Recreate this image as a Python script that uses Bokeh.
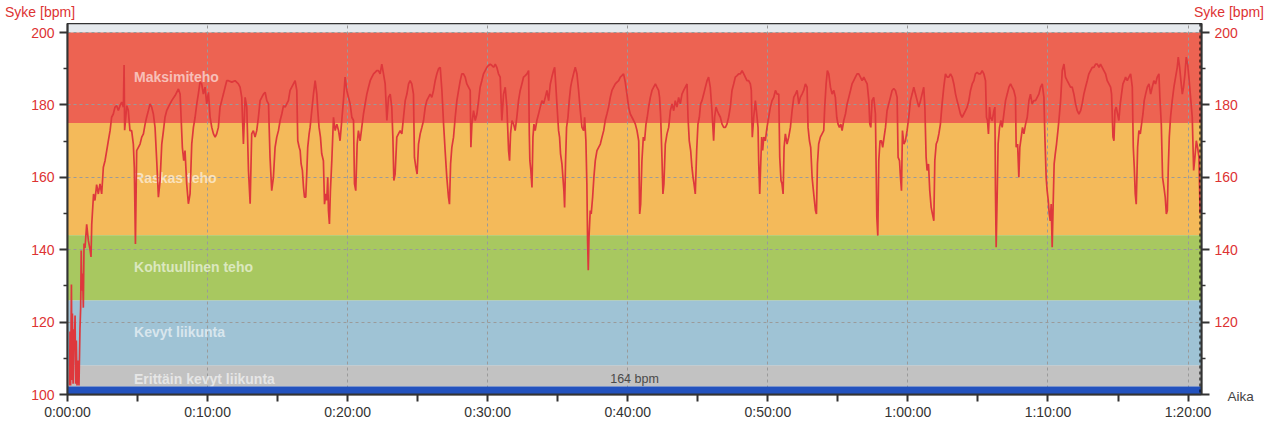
from bokeh.plotting import figure
from bokeh.models import Range1d, LinearAxis, FixedTicker, Label, Span, Div
from bokeh.layouts import column
from bokeh.embed import file_html
from bokeh.resources import INLINE
from bokeh.core.properties import value

# ---------------- data ----------------
duration_min = 80.96
end_marker_min = 80.85

zone_names = ["Maksimiteho", "Raskas teho", "Kohtuullinen teho", "Kevyt liikunta", "Erittäin kevyt liikunta"]
zone_low = [175, 144, 126, 108, 102.2]
zone_high = [200, 175, 144, 126, 108]
zone_label_bpm = [187.8, 159.9, 135.3, 117.4, 104.2]
zone_label_min = 4.75
floor_low, floor_high = 100, 102.2

avg_text = "164 bpm"
avg_text_bpm = 104.3

y_ticks = [100, 120, 140, 160, 180, 200]
y_minor = [110, 130, 150, 170, 190]
x_ticks = [0, 10, 20, 30, 40, 50, 60, 70, 80]
x_minor = [5, 15, 25, 35, 45, 55, 65, 75]
x_tick_labels = ["0:00:00", "0:10:00", "0:20:00", "0:30:00", "0:40:00",
                 "0:50:00", "1:00:00", "1:10:00", "1:20:00"]
y_title = "Syke [bpm]"
x_title = "Aika"

hr_minutes = [
    0.15, 0.18, 0.22, 0.28, 0.32, 0.35, 0.40, 0.46, 0.50, 0.54, 0.58, 0.63, 0.68, 0.75, 0.82, 0.89, 0.94, 0.98,
    1.02, 1.08, 1.13, 1.18, 1.25, 1.37, 1.49, 1.61, 1.68, 1.73, 1.86, 1.96, 2.08, 2.20, 2.32, 2.44, 2.56, 2.68,
    2.80, 2.92, 3.04, 3.15, 3.27, 3.39, 3.51, 3.63, 3.75, 3.87, 3.99, 4.04, 4.08, 4.23, 4.34, 4.46, 4.58, 4.70,
    4.77, 4.85, 4.94, 5.06, 5.18, 5.30, 5.42, 5.54, 5.65, 5.77, 5.89, 6.01, 6.13, 6.25, 6.37, 6.49, 6.61, 6.73,
    6.85, 6.96, 7.08, 7.20, 7.32, 7.44, 7.68, 7.92, 8.04, 8.11, 8.20, 8.30, 8.39, 8.51, 8.63, 8.75, 8.87, 8.99,
    9.11, 9.23, 9.34, 9.46, 9.58, 9.70, 9.82, 9.94, 10.06, 10.18, 10.30, 10.42, 10.54, 10.65, 10.77, 10.89,
    11.01, 11.13, 11.25, 11.37, 11.49, 11.73, 11.96, 12.20, 12.32, 12.44, 12.56, 12.68, 12.80, 12.92, 13.04,
    13.15, 13.27, 13.39, 13.51, 13.63, 13.75, 13.87, 13.99, 14.11, 14.23, 14.35, 14.46, 14.58, 14.70, 14.82,
    14.94, 15.06, 15.18, 15.30, 15.42, 15.54, 15.65, 15.77, 15.89, 16.01, 16.13,
    16.25, 16.37, 16.44, 16.54, 16.61, 16.68, 16.77, 16.85, 16.92, 17.01, 17.08, 17.15, 17.25, 17.32, 17.44,
    17.56, 17.68, 17.80, 17.87, 17.96, 18.06, 18.15, 18.27, 18.35, 18.44, 18.51, 18.58, 18.63, 18.70, 18.77,
    18.87, 18.99, 19.11, 19.23, 19.35, 19.46, 19.58, 19.70, 19.82, 19.94, 20.06, 20.18, 20.30, 20.42, 20.49,
    20.58, 20.68, 20.77, 20.89, 21.01, 21.13, 21.25, 21.37, 21.49, 21.61, 21.73, 21.85, 21.96, 22.08, 22.20,
    22.32, 22.44, 22.56, 22.68, 22.80, 22.92, 23.04, 23.15, 23.23, 23.30, 23.39, 23.51, 23.63, 23.75, 23.87,
    23.99, 24.11, 24.23, 24.35, 24.46, 24.58, 24.70, 24.77, 24.87, 24.96, 25.06, 25.18, 25.30, 25.42, 25.54,
    25.65, 25.77, 25.89, 26.01, 26.13, 26.25, 26.37, 26.49, 26.61, 26.73, 26.85, 26.96, 27.08, 27.20, 27.27,
    27.35, 27.44, 27.56, 27.68, 27.80, 27.92, 28.04, 28.15, 28.27, 28.39, 28.51, 28.63, 28.75, 28.80, 28.87,
    28.99, 29.11, 29.23, 29.35, 29.46, 29.58, 29.70, 29.82, 29.94, 30.06, 30.18, 30.30, 30.42, 30.54, 30.65,
    30.77, 30.89, 31.01, 31.13, 31.25, 31.37, 31.49, 31.56, 31.63, 31.73, 31.85, 31.96, 32.08, 32.20, 32.32,
    32.44, 32.56, 32.68, 32.80,
    32.92, 32.97, 33.01, 33.08, 33.16, 33.23, 33.30, 33.39, 33.51, 33.63, 33.75, 33.87, 33.99, 34.11, 34.23,
    34.35, 34.47, 34.58, 34.70, 34.78, 34.87, 34.97, 35.06, 35.13, 35.20, 35.30, 35.37, 35.44, 35.49, 35.56,
    35.63, 35.73, 35.82, 35.92, 36.01, 36.13, 36.25, 36.37, 36.49, 36.61, 36.73, 36.85, 36.92, 37.01, 37.08,
    37.13, 37.18, 37.23, 37.32, 37.39, 37.49, 37.58, 37.68, 37.80, 37.92, 38.04, 38.16, 38.28, 38.39, 38.51,
    38.63, 38.75, 38.87, 38.99, 39.11, 39.23, 39.35, 39.47, 39.58, 39.70, 39.82, 39.94, 40.06, 40.18, 40.30,
    40.42, 40.54, 40.66, 40.78, 40.85, 40.92, 41.01, 41.11, 41.20, 41.30, 41.39, 41.49, 41.61, 41.73, 41.85,
    41.97, 42.08, 42.20, 42.27, 42.35, 42.44, 42.51, 42.58, 42.68, 42.80, 42.92, 43.04, 43.16, 43.28, 43.39,
    43.51, 43.63, 43.75, 43.87, 43.99, 44.11, 44.23, 44.30, 44.39, 44.49, 44.58, 44.66, 44.73, 44.82, 44.92,
    45.01, 45.11, 45.20, 45.30, 45.42, 45.54, 45.66, 45.77, 45.89, 46.01, 46.13, 46.20, 46.30, 46.39, 46.49,
    46.61, 46.73, 46.85, 46.97, 47.08, 47.20, 47.32, 47.44, 47.56, 47.68, 47.80, 47.92, 48.04, 48.16, 48.28,
    48.39, 48.51, 48.63, 48.75, 48.82, 48.89, 48.99,
    49.11, 49.23, 49.30, 49.35, 49.42, 49.49, 49.56, 49.63, 49.71, 49.82, 49.94, 50.06, 50.18, 50.30, 50.42,
    50.54, 50.66, 50.78, 50.85, 50.94, 51.01, 51.09, 51.16, 51.25, 51.37, 51.49, 51.61, 51.73, 51.85, 51.97,
    52.09, 52.21, 52.32, 52.44, 52.56, 52.68, 52.80, 52.87, 52.97, 53.06, 53.16, 53.23, 53.30, 53.40, 53.47,
    53.54, 53.63, 53.75, 53.87, 53.99, 54.06, 54.16, 54.25, 54.35, 54.47, 54.59, 54.71, 54.82, 54.92, 55.01,
    55.11, 55.21, 55.30, 55.42, 55.54, 55.66, 55.78, 55.90, 56.01, 56.13, 56.25, 56.37, 56.49, 56.61, 56.73,
    56.85, 56.97, 57.09, 57.21, 57.28, 57.35, 57.44, 57.56, 57.68, 57.78, 57.85, 57.92, 58.01, 58.11, 58.20,
    58.30, 58.40, 58.51, 58.63, 58.75, 58.87, 58.99, 59.11, 59.23, 59.30, 59.40, 59.47, 59.54, 59.61, 59.71,
    59.82, 59.94, 60.06, 60.18, 60.30, 60.42, 60.54, 60.66, 60.78, 60.90, 61.01, 61.13, 61.21, 61.30, 61.37,
    61.47, 61.56, 61.66, 61.75, 61.85, 61.92, 62.02, 62.11, 62.21, 62.32, 62.44, 62.56, 62.68, 62.80, 62.92,
    63.04, 63.16, 63.28, 63.40, 63.51, 63.63, 63.75, 63.87, 63.99, 64.11, 64.23, 64.35, 64.47, 64.59, 64.71,
    64.82, 64.94, 65.06, 65.18, 65.30, 65.42, 65.54,
    65.61, 65.68, 65.75, 65.83, 65.90, 66.02, 66.14, 66.21, 66.25, 66.30, 66.37, 66.44, 66.54, 66.64, 66.73,
    66.85, 66.97, 67.09, 67.21, 67.33, 67.44, 67.56, 67.68, 67.73, 67.83, 67.92, 67.99, 68.09, 68.18, 68.28,
    68.40, 68.52, 68.64, 68.75, 68.87, 68.99, 69.11, 69.23, 69.35, 69.47, 69.59, 69.71, 69.78, 69.87, 69.94,
    70.02, 70.09, 70.16, 70.23, 70.30, 70.37, 70.44, 70.52, 70.61, 70.71, 70.80, 70.90, 71.02, 71.14, 71.25,
    71.37, 71.49, 71.61, 71.73, 71.85, 71.97, 72.09, 72.21, 72.33, 72.44, 72.56, 72.68, 72.80, 72.92, 73.04,
    73.16, 73.28, 73.40, 73.52, 73.64, 73.75, 73.87, 73.99, 74.11, 74.23, 74.35, 74.47, 74.54, 74.64, 74.71,
    74.78, 74.87, 74.97, 75.06, 75.16, 75.25, 75.35, 75.45, 75.54, 75.66, 75.78, 75.90, 76.02, 76.09, 76.16,
    76.23, 76.30, 76.40, 76.49, 76.59, 76.68, 76.78, 76.87, 76.97, 77.09, 77.21, 77.33, 77.44, 77.56, 77.68,
    77.80, 77.92, 77.99, 78.09, 78.18, 78.28, 78.37, 78.45, 78.52, 78.59, 78.66, 78.75, 78.87, 78.99, 79.11,
    79.23, 79.30, 79.40, 79.49, 79.59, 79.68, 79.78, 79.87, 79.97, 80.06, 80.18, 80.30, 80.40, 80.49, 80.59,
    80.68, 80.78, 80.86,
]

hr_bpm = [
    102.5, 117.4, 102.5, 130.4, 104.0, 122.4, 103.0, 118.0, 115.0, 121.8, 103.0, 114.9, 102.5, 109.4, 102.5, 118.2, 124.0, 139.8,
    128.7, 133.4, 124.0, 141.7, 140.5, 147.0, 142.5, 140.0, 138.0, 147.0, 155.4, 153.6, 158.0, 155.4, 158.2, 155.4, 162.8, 164.6,
    167.4, 170.2, 172.9, 176.6, 177.5, 179.4, 179.8, 178.5, 179.8, 180.8, 179.4, 191.0, 173.0, 179.8, 178.5, 172.9, 172.9, 169.2,
    162.8, 141.6, 167.4, 168.3, 169.2, 171.1, 172.0, 174.7, 176.6, 178.4, 180.3, 179.4, 177.5, 173.8, 164.6, 154.5, 159.1, 169.2,
    172.9, 176.6, 178.4, 179.4, 180.3, 181.2, 182.6, 184.4, 183.0, 176.6, 168.3, 164.6, 167.4, 158.2, 152.7, 155.4, 169.2, 173.8,
    176.6, 180.3, 183.0, 186.3, 185.8, 183.0, 184.9, 180.3, 183.5, 176.6, 173.8, 172.0, 171.1, 172.0, 173.8, 179.4,
    181.2, 183.0, 184.9, 186.7, 186.7, 186.3, 186.7, 185.8, 184.9, 182.1, 169.2, 182.1, 179.4, 161.9, 152.7,
    172.0, 172.9, 171.1, 172.9, 176.6, 181.2, 182.1, 183.0, 183.5, 181.2, 180.3, 165.5, 156.3, 160.0, 168.3,
    171.1, 172.9, 175.7, 177.5, 179.8, 179.4, 180.3, 181.2, 184.0, 184.9, 185.8,
    186.7, 184.0, 170.1, 168.3, 167.4, 163.7, 161.9, 157.2, 154.5, 154.5, 160.9, 168.3, 172.0, 173.8, 178.4,
    183.0, 186.7, 183.0, 178.4, 173.8, 171.1, 166.5, 164.6, 152.6, 155.4, 153.6, 160.0, 150.8, 147.1, 156.3,
    164.6, 176.6, 172.9, 174.7, 172.9, 170.1, 175.7, 181.2, 187.7, 184.0, 182.1, 180.3, 176.6, 175.7, 158.2,
    156.3, 169.2, 172.9, 170.1, 173.8, 177.5, 180.3, 183.0, 184.9, 186.7, 187.7, 188.6, 189.0, 189.5, 189.5,
    188.6, 191.3, 188.6, 185.8, 175.7, 182.1, 183.0, 179.4, 171.1, 159.1, 160.9, 171.1, 172.0, 172.9, 172.0,
    176.6, 181.2, 183.0, 185.8, 186.7, 185.8, 183.0, 165.5, 162.8, 160.9, 169.2, 172.0, 173.8, 175.7, 179.4,
    181.2, 182.1, 183.0, 182.1, 184.0, 186.7, 188.6, 190.0, 190.4, 184.0, 174.7, 167.4, 160.0, 154.5, 152.6,
    163.7, 168.3, 171.1, 176.6, 181.2, 184.0, 186.7, 188.6, 188.6, 187.7, 185.8, 184.9, 184.0, 168.3, 174.7,
    178.4, 175.7, 177.5, 181.2, 184.9, 186.7, 188.6, 189.5, 190.4, 190.9, 191.3, 190.9, 190.4, 191.3, 190.4,
    188.6, 187.7, 175.7, 183.0, 184.9, 179.4, 167.4, 164.6, 172.0, 175.7, 174.7, 172.9, 176.6, 181.2, 184.0,
    185.8, 187.7, 188.1, 188.6,
    189.5, 172.0, 164.6, 161.9, 157.2, 171.1, 174.7, 172.9, 175.7, 177.5, 179.4, 181.2, 180.3, 182.1, 184.0,
    181.2, 185.8, 187.7, 189.5, 190.4, 184.9, 178.4, 172.9, 171.1, 166.5, 163.7, 160.0, 156.3, 151.7, 164.6,
    173.8, 176.6, 181.2, 184.9, 186.7, 188.6, 190.4, 188.6, 184.0, 178.4, 173.8, 172.9, 176.6, 170.1, 158.2,
    142.5, 134.3, 143.4, 150.8, 149.9, 154.5, 160.0, 164.6, 167.4, 168.3, 169.2, 171.1, 172.9, 175.7, 177.5,
    179.4, 182.1, 184.0, 184.9, 185.8, 186.3, 186.7, 187.7, 188.1, 188.6, 186.3, 183.0, 179.4, 177.5, 176.6,
    175.7, 174.7, 172.9, 170.1, 149.9, 152.6, 164.6, 171.1, 170.1, 174.7, 176.6, 179.4, 182.1, 184.0, 184.9,
    185.8, 184.9, 184.0, 182.1, 176.6, 165.5, 155.4, 158.2, 169.2, 172.0, 173.8, 178.4, 180.3, 178.4, 181.2,
    179.4, 182.1, 180.3, 183.0, 184.0, 184.9, 185.8, 176.6, 170.1, 167.4, 162.8, 160.0, 158.2, 155.4, 167.4,
    174.7, 176.6, 180.3, 181.2, 183.0, 184.9, 186.7, 187.7, 184.9, 178.4, 170.1, 176.6, 179.4, 178.4, 177.5,
    176.6, 174.7, 173.8, 173.8, 174.7, 176.6, 179.4, 184.0, 185.8, 187.7, 188.1, 188.6, 188.6, 189.5, 188.6,
    187.7, 186.7, 186.7, 185.8, 184.0, 171.1, 176.6,
    181.2, 176.6, 173.8, 163.7, 155.4, 163.7, 171.1, 167.4, 171.1, 170.1, 173.8, 176.6, 179.4, 181.2, 182.1,
    184.0, 183.0, 183.0, 165.5, 159.1, 158.2, 155.4, 168.3, 172.0, 169.2, 171.1, 173.8, 178.4, 182.1, 183.0,
    184.0, 180.3, 182.1, 183.0, 184.0, 185.8, 184.9, 173.8, 170.1, 168.3, 160.0, 157.2, 154.5, 150.8, 149.9,
    163.7, 169.2, 171.1, 172.0, 172.9, 179.4, 185.8, 189.5, 188.6, 184.9, 183.0, 184.0, 182.1, 176.6, 174.7,
    173.8, 174.7, 172.9, 175.7, 177.5, 180.3, 182.1, 184.0, 185.8, 186.7, 187.7, 188.6, 188.6, 187.7, 186.7,
    187.7, 186.7, 185.8, 181.2, 174.7, 173.8, 181.2, 182.1, 177.5, 149.0, 143.9, 164.6, 170.1, 170.1, 168.3,
    171.1, 173.8, 178.4, 180.3, 182.1, 184.0, 184.5, 184.0, 182.1, 165.5, 164.6, 160.0, 156.3, 172.9, 169.2,
    170.1, 172.9, 176.6, 181.2, 183.0, 184.9, 183.0, 181.2, 179.4, 181.2, 183.0, 184.9, 179.4, 165.5, 161.9,
    163.7, 156.3, 151.7, 149.9, 148.0, 164.6, 169.2, 170.1, 172.0, 174.7, 180.3, 184.9, 188.6, 187.7, 187.7,
    188.6, 187.7, 185.8, 183.0, 181.2, 179.4, 177.5, 176.6, 177.5, 178.4, 179.4, 181.2, 184.0, 185.8, 186.7,
    188.6, 189.0, 188.6, 188.6, 189.5, 188.6, 186.7,
    176.6, 175.7, 172.0, 179.4, 176.6, 175.7, 178.4, 179.4, 156.3, 140.7, 154.5, 169.2, 173.8, 175.7, 173.8,
    177.5, 181.2, 183.0, 184.9, 185.8, 184.9, 184.0, 182.1, 168.3, 169.2, 160.0, 168.3, 171.1, 173.8, 172.0,
    174.7, 176.6, 181.2, 183.0, 180.3, 181.2, 181.2, 182.1, 183.0, 184.9, 185.8, 182.1, 171.1, 160.0, 156.3,
    153.6, 149.9, 148.0, 152.6, 140.7, 152.6, 163.7, 166.5, 169.2, 172.9, 176.6, 181.2, 189.5, 191.3, 187.7,
    186.7, 185.8, 184.9, 184.9, 183.0, 180.3, 178.4, 177.5, 178.4, 180.3, 183.0, 184.9, 186.7, 188.6, 189.5,
    190.4, 190.4, 191.3, 191.3, 190.4, 191.3, 190.4, 189.5, 188.6, 186.7, 185.8, 184.9, 183.0, 171.1, 170.1,
    178.4, 179.4, 177.5, 175.7, 180.3, 183.0, 185.8, 186.7, 187.7, 186.7, 187.7, 188.6, 184.9, 168.3, 162.8,
    155.4, 152.6, 168.3, 172.9, 172.0, 174.7, 177.5, 181.2, 183.0, 184.9, 185.8, 183.0, 184.9, 186.7, 185.8,
    187.7, 188.6, 182.1, 174.7, 160.0, 157.2, 154.5, 149.9, 150.8, 162.8, 171.1, 176.6, 181.2, 184.9, 187.7,
    190.4, 193.2, 190.4, 186.7, 183.0, 184.9, 188.6, 193.2, 191.3, 187.7, 182.1, 176.6, 161.9, 165.5, 170.1,
    168.3, 165.5, 150.0,
]

# ---------------- styles ----------------
zone_colors = ["#ed6352", "#f4ba5a", "#a8c860", "#9fc3d5", "#c2c2c2"]
floor_color = "#2352be"
line_color = "#de383c"
axis_red = "#dd3333"
dark = "#333333"
FONT = "Liberation Sans"

# ---- header strip with the two y-axis titles ----
span_style = ("position:absolute;top:4px;line-height:16px;white-space:nowrap;"
              "font-family:'Liberation Sans';font-size:14px;color:%s;" % axis_red)
head_html = (
    '<div style="position:relative;width:1268px;height:23px;overflow:visible;">'
    '<span style="%sleft:5px;">%s</span>'
    '<span style="%sright:4px;">%s</span>'
    '</div>' % (span_style, y_title, span_style, y_title)
)
head = Div(text=head_html, width=1268, height=23, margin=(0, 0, 0, 0))

# ---- main chart ----
p = figure(width=1268, height=405,
           x_range=Range1d(0, duration_min), y_range=Range1d(100, 202.5),
           output_backend="svg", toolbar_location=None,
           min_border_left=67, min_border_right=67, min_border_top=0, min_border_bottom=34,
           background_fill_color="#e5e9ed", border_fill_color="white",
           margin=(0, 0, 0, 0))

p.outline_line_color = dark
p.outline_line_width = 1.5

# zone bands
p.quad(left=[0] * len(zone_low), right=[duration_min] * len(zone_low),
       bottom=zone_low, top=zone_high, fill_color=zone_colors, line_color=None,
       level="image")

# grids
p.xgrid.ticker = FixedTicker(ticks=x_ticks[1:])
p.ygrid.ticker = FixedTicker(ticks=y_ticks[1:])
for g in (p.xgrid[0], p.ygrid[0]):
    g.grid_line_color = "#9a9a9a"
    g.grid_line_dash = "3 3"
    g.grid_line_width = 1

# zone labels
p.text(x=[zone_label_min] * len(zone_names), y=zone_label_bpm, text=zone_names,
       text_font=value(FONT), text_font_style="bold", text_font_size="14px",
       text_color="white", text_alpha=0.6, text_baseline="alphabetic", text_align="left")

# heart-rate line
p.line(hr_minutes, hr_bpm, line_color=line_color, line_width=1.7)

# floor band
p.quad(left=[0], right=[duration_min], bottom=[floor_low], top=[floor_high],
       fill_color=floor_color, line_color=None)

# end marker
p.add_layout(Span(location=end_marker_min, dimension="height", line_color="black",
                  line_dash="3 3", line_width=1))

# average label
p.add_layout(Label(x=duration_min / 2, y=avg_text_bpm, text=avg_text, text_align="center",
                   text_baseline="alphabetic", text_font=FONT, text_font_size="12.5px",
                   text_color="#4a4a4a"))

# axes
right_axis = LinearAxis()
p.add_layout(right_axis, "right")
for ax in (p.yaxis[0], right_axis):
    ax.ticker = FixedTicker(ticks=y_ticks, minor_ticks=y_minor)
    ax.major_label_text_color = axis_red
    ax.major_label_text_font = FONT
    ax.major_label_text_font_size = "14px"
    ax.major_label_standoff = 5
    ax.axis_line_color = dark
    ax.axis_line_width = 2
    ax.major_tick_line_color = dark
    ax.major_tick_line_width = 2
    ax.major_tick_out = 8
    ax.major_tick_in = 0
    ax.minor_tick_line_color = dark
    ax.minor_tick_line_width = 1.5
    ax.minor_tick_out = 4
    ax.minor_tick_in = 0
right_axis.major_label_overrides = {y_ticks[0]: ""}

xa = p.xaxis[0]
xa.ticker = FixedTicker(ticks=x_ticks, minor_ticks=x_minor)
xa.major_label_overrides = {t: lab for t, lab in zip(x_ticks, x_tick_labels)}
xa.major_label_text_color = dark
xa.major_label_text_font = FONT
xa.major_label_text_font_size = "14px"
xa.major_label_standoff = 2
xa.axis_line_color = dark
xa.axis_line_width = 2
xa.major_tick_line_color = dark
xa.major_tick_line_width = 2
xa.major_tick_out = 7
xa.major_tick_in = 0
xa.minor_tick_line_color = dark
xa.minor_tick_line_width = 2
xa.minor_tick_out = 7
xa.minor_tick_in = 0

# x-axis title at the right end of the time axis (in the right side panel, so not clipped)
p.add_layout(Label(x=duration_min, y=100, x_offset=26, y_offset=-2, text=x_title,
                   text_font=FONT, text_font_size="13.5px", text_color="#444444",
                   text_baseline="alphabetic", text_align="left"), "right")

layout = column(head, p, spacing=0)
open("out.html", "w").write(file_html(layout, INLINE))
